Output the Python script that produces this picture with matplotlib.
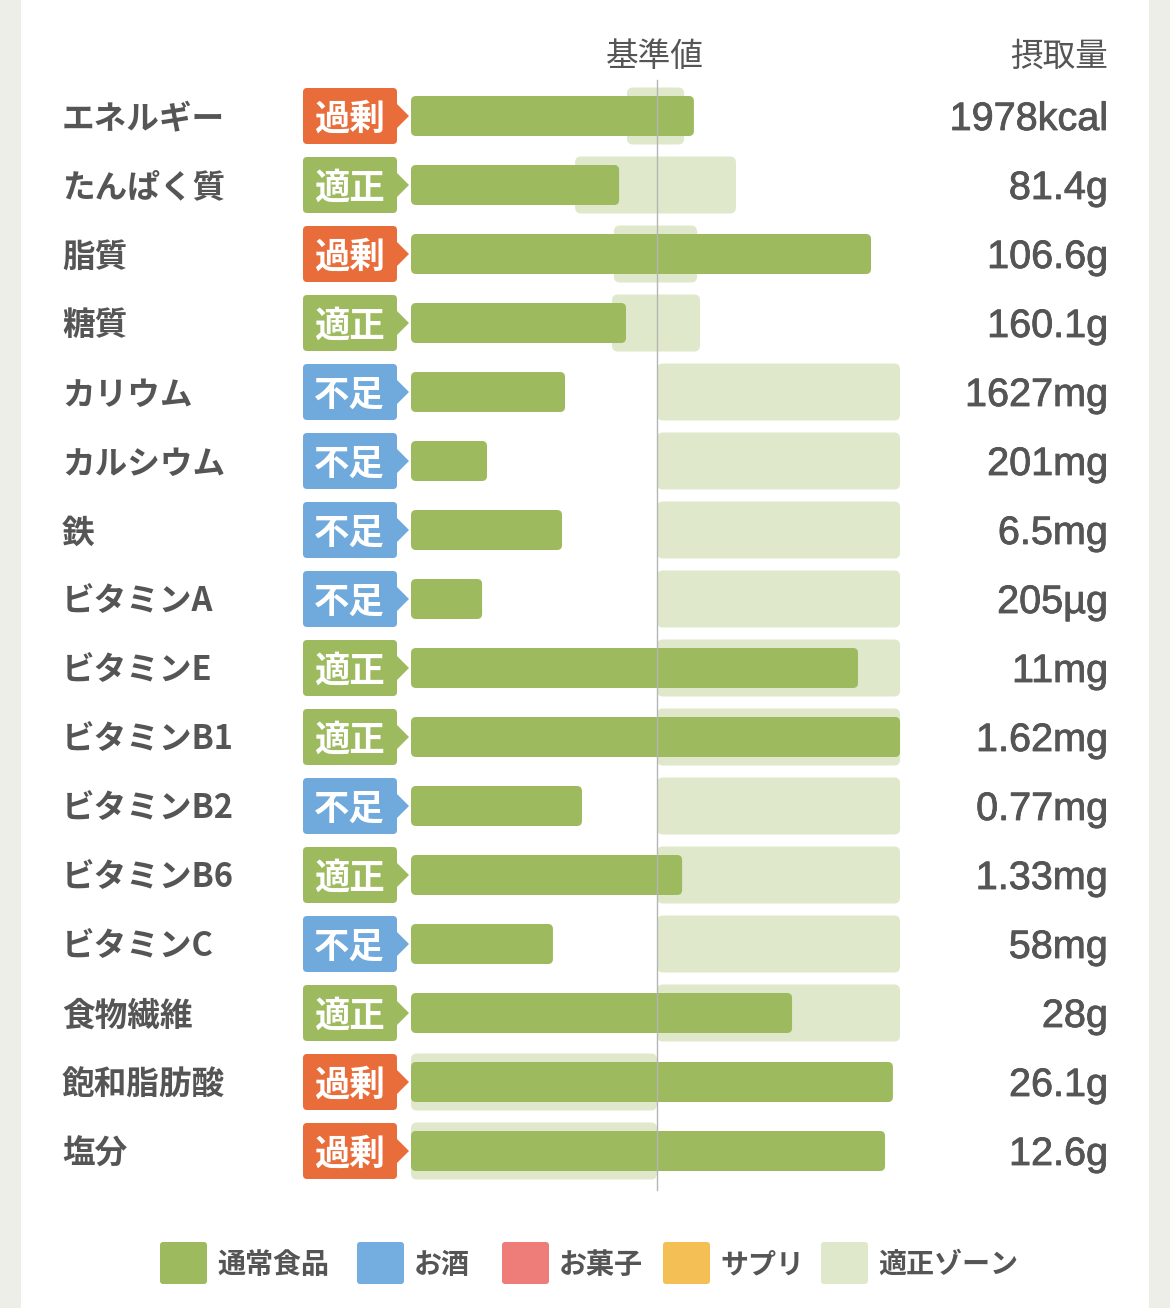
import matplotlib
matplotlib.use("Agg")
import matplotlib.pyplot as plt
import matplotlib.patches as patches
import matplotlib.patheffects as pe

plt.rcParams['font.family'] = ['Noto Sans CJK JP', 'DejaVu Sans']

# data (percent of the reference value)
nutrients = ['エネルギー', 'たんぱく質', '脂質', '糖質', 'カリウム', 'カルシウム', '鉄',
             'ビタミンA', 'ビタミンE', 'ビタミンB1', 'ビタミンB2', 'ビタミンB6',
             'ビタミンC', '食物繊維', '飽和脂肪酸', '塩分']
status = ['過剰', '適正', '過剰', '適正', '不足', '不足', '不足', '不足',
          '適正', '適正', '不足', '適正', '不足', '適正', '過剰', '過剰']
intake_pct = [115.0, 84.6, 187.0, 87.4, 62.6, 30.9, 61.4, 28.9,
              181.7, 198.8, 69.5, 110.2, 57.7, 154.9, 195.9, 192.7]
zone_lo = [87.8, 66.7, 82.5, 81.7, 100, 100, 100, 100,
           100, 100, 100, 100, 100, 100, 0, 0]
zone_hi = [111.0, 132.1, 116.3, 117.5, 198.8, 198.8, 198.8, 198.8,
           198.8, 198.8, 198.8, 198.8, 198.8, 198.8, 100, 100]
intake_text = ['1978kcal', '81.4g', '106.6g', '160.1g', '1627mg', '201mg', '6.5mg',
               '205µg', '11mg', '1.62mg', '0.77mg', '1.33mg', '58mg', '28g',
               '26.1g', '12.6g']
legend_labels = ['通常食品', 'お酒', 'お菓子', 'サプリ', '適正ゾーン']

# colours
GREEN = '#9dbb5e'
ZONE = '#dfe8cb'
TEXT = '#555555'
status_colors = {'過剰': '#e96d3a', '適正': '#9dbb5e', '不足': '#70a9dc'}
legend_colors = ['#9dbb5e', '#74ade0', '#ee7c79', '#f4bf55', '#dfe8cb']

W, H = 1170, 1308
fig = plt.figure(figsize=(W / 100, H / 100), dpi=100)
fig.patch.set_facecolor('#eeeee8')
ax = fig.add_axes([0, 0, 1, 1])
ax.set_facecolor('none')
ax.axis('off')

# layout: x=0 at px 411, x=100 at px 657; row i centred at px 116 + 69*i
X0, PX_PER = 411, 2.46
Y0, ROW = 116, 69
ax.set_xlim(-X0 / PX_PER, (W - X0) / PX_PER)
ax.set_ylim((H - Y0) / ROW, -Y0 / ROW)


def px_x(p):
    return (p - X0) / PX_PER


def px_y(p):
    return (p - Y0) / ROW


# white card
ax.add_patch(patches.Rectangle((px_x(21), px_y(-10)), (1149 - 21) / PX_PER, (H + 20) / ROW,
                               facecolor='white', edgecolor='none', zorder=0))

rows = list(range(len(nutrients)))
aspect = (1 / ROW) / (1 / PX_PER)
DY = 3 / ROW  # text baseline nudge
heavy = [pe.withStroke(linewidth=0.6, foreground=TEXT)]


def rounded(bars, color, z, r):
    for b in bars:
        fb = patches.FancyBboxPatch((b.get_x(), b.get_y()), b.get_width(), b.get_height(),
                                    boxstyle='round,pad=0,rounding_size=%g' % r,
                                    mutation_aspect=aspect, facecolor=color,
                                    edgecolor='none', zorder=z)
        ax.add_patch(fb)
        b.remove()


zone_bars = ax.barh(rows, [h - l for l, h in zip(zone_lo, zone_hi)], left=zone_lo,
                    height=57 / ROW)
rounded(zone_bars, ZONE, 1, 6 / PX_PER)
intake_bars = ax.barh(rows, intake_pct, height=40 / ROW)
rounded(intake_bars, GREEN, 2, 5 / PX_PER)

# reference line
ax.plot([100, 100], [px_y(80), px_y(1190)], color='#b5b5b5', lw=1, zorder=3)

# headers
ax.text(px_x(655), px_y(57), '基準値', ha='center', va='center', fontsize=23.5, color=TEXT)
ax.text(px_x(1108), px_y(57), '摂取量', ha='right', va='center', fontsize=23.5, color=TEXT)

for i, (name, st, val) in enumerate(zip(nutrients, status, intake_text)):
    ax.text(px_x(62), i + DY, name, ha='left', va='center', fontsize=23.5,
            fontweight='bold', color=TEXT)
    c = status_colors[st]
    badge = patches.FancyBboxPatch((px_x(303), i - 28 / ROW), 94 / PX_PER, 56 / ROW,
                                   boxstyle='round,pad=0,rounding_size=%g' % (4 / PX_PER),
                                   mutation_aspect=aspect, facecolor=c, edgecolor='none',
                                   zorder=2)
    ax.add_patch(badge)
    ax.add_patch(patches.Polygon([(px_x(396), i - 13 / ROW), (px_x(409), i),
                                  (px_x(396), i + 13 / ROW)],
                                 closed=True, facecolor=c, edgecolor='none', zorder=2))
    ax.text(px_x(349), i + DY, st, ha='center', va='center', fontsize=25.5,
            fontweight='bold', color='white', zorder=4)
    ax.text(px_x(1108), i + DY, val, ha='right', va='center', fontsize=28.5,
            family=['Liberation Sans', 'DejaVu Sans'], color=TEXT, path_effects=heavy)

# legend
legend_x = [160, 357, 502, 663, 821]
for lx, lab, col in zip(legend_x, legend_labels, legend_colors):
    ax.add_patch(patches.FancyBboxPatch((px_x(lx), px_y(1242)), 47 / PX_PER, 42 / ROW,
                                        boxstyle='round,pad=0,rounding_size=%g' % (3 / PX_PER),
                                        mutation_aspect=aspect, facecolor=col,
                                        edgecolor='none', zorder=2))
    ax.text(px_x(lx + 57), px_y(1265), lab, ha='left', va='center', fontsize=20.2,
            fontweight='bold', color=TEXT)

fig.savefig('out.png', dpi=100, facecolor=fig.get_facecolor())
